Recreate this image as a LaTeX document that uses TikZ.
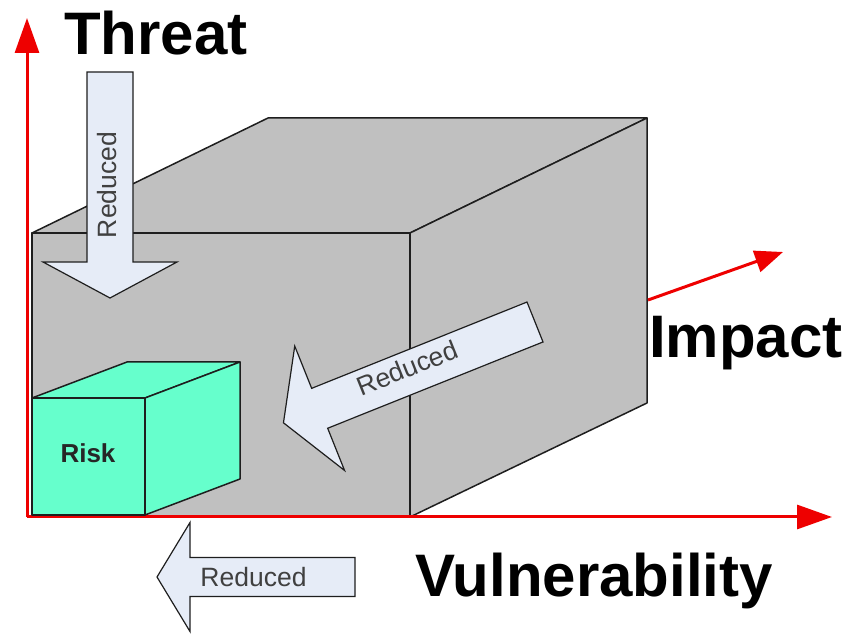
\documentclass[tikz,border=0pt]{standalone}
\usepackage{fontspec}
\setmainfont{Liberation Sans}
\usetikzlibrary{arrows.meta}
\definecolor{cubegray}{RGB}{192,192,192}
\definecolor{riskgreen}{RGB}{102,255,204}
\definecolor{arrowfill}{RGB}{230,236,247}
\definecolor{axisred}{RGB}{238,0,0}
\definecolor{edgedark}{RGB}{30,30,30}
\tikzset{
  cubeface/.style={fill=cubegray, draw=edgedark, line width=1.5pt, line join=round},
  riskface/.style={fill=riskgreen, draw=edgedark, line width=1.5pt, line join=round},
  axisline/.style={draw=axisred, line width=3pt, -{Triangle[length=35pt,width=24pt]}},
  reducearrow/.style={fill=arrowfill, draw=edgedark, line width=1.2pt, line join=miter},
  axislabel/.style={font=\fontsize{60}{62}\selectfont\bfseries, inner sep=0pt, anchor=base},
  reducelabel/.style={font=\fontsize{26.5}{28}\selectfont, text=black!75, inner sep=0pt},
  pics/bigarrow/.style args={#1/#2/#3/#4}{code={
    \path[reducearrow] (0,#2) -- ({#1-#4},#2) -- ({#1-#4},#3) -- (#1,0)
      -- ({#1-#4},-#3) -- ({#1-#4},-#2) -- (0,-#2) -- cycle;
  }}
}
\begin{document}
\begin{tikzpicture}[x=1pt,y=1pt]
\useasboundingbox (0,0) rectangle (848,634);

% big cube
\coordinate (FTL) at (32,401);
\coordinate (FTR) at (410,401);
\coordinate (FBR) at (410,117);
\coordinate (FBL) at (32,117);
\coordinate (BTL) at (268,516);
\coordinate (BTR) at (647,516);
\coordinate (BBR) at (647,231);
\path[cubeface] (FTL) -- (BTL) -- (BTR) -- (FTR) -- cycle;
\path[cubeface] (FTR) -- (BTR) -- (BBR) -- (FBR) -- cycle;
\path[cubeface] (FBL) rectangle (FTR);

% axes
\coordinate (O) at (27,117);
\coordinate (Ytip) at (27,616);
\coordinate (Xtip) at (832,117);
\coordinate (Zstart) at (648,334);
\coordinate (Ztip) at (783,382);
\draw[axisline] (O) -- (Ytip);
\draw[axisline] (O) -- (Xtip);
\draw[axisline, -{Triangle[length=28pt,width=22pt]}] (Zstart) -- (Ztip);

% risk cube
\coordinate (rFTL) at (32,236);
\coordinate (rFTR) at (145,236);
\coordinate (rFBR) at (145,119);
\coordinate (rFBL) at (32,119);
\coordinate (rBTL) at (127,272);
\coordinate (rBTR) at (240,272);
\coordinate (rBBR) at (240,155);
\path[riskface] (rFTL) -- (rBTL) -- (rBTR) -- (rFTR) -- cycle;
\path[riskface] (rFTR) -- (rBTR) -- (rBBR) -- (rFBR) -- cycle;
\path[riskface] (rFBL) rectangle (rFTR);
\node[font=\fontsize{26}{28}\selectfont\bfseries, text=black!85, inner sep=0pt, anchor=base] (risk) at (88,171) {Risk};

% reduced arrows
\pic[rotate=-90] at (110,562) {bigarrow={226/23/67/36}};
\pic[rotate=201.84] at (535,312) {bigarrow={271/21.5/67/39}};
\pic[rotate=180] at (355,57) {bigarrow={198/19.5/54.5/33}};
\node[reducelabel, rotate=90] (r1) at (107,449) {Reduced};
\node[reducelabel, rotate=21.84] (r2) at (407,266) {Reduced};
\node[reducelabel] (r3) at (253.5,57) {Reduced};

% axis labels
\node[axislabel] (threat) at (156,579) {Threat};
\node[axislabel] (impact) at (746,276) {Impact};
\node[axislabel] (vuln) at (594,37) {Vulnerability};
\end{tikzpicture}
\end{document}
